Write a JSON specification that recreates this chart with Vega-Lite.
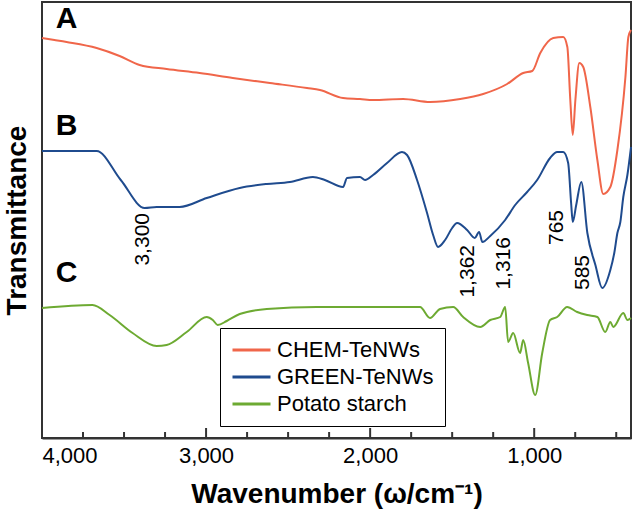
{
  "$schema": "https://vega.github.io/schema/vega-lite/v6.json",
  "width": 589,
  "height": 436,
  "autosize": {"type": "none"},
  "padding": {"left": 42, "top": 2, "right": 5, "bottom": 75},
  "config": {
    "font": "Liberation Sans",
    "view": {"stroke": "#333333", "strokeWidth": 2},
    "axis": {"grid": false}
  },
  "datasets": {
    "spectra": [
      {"s": "CHEM-TeNWs", "wn": 4000, "t": 400},
      {"s": "CHEM-TeNWs", "wn": 3924, "t": 398},
      {"s": "CHEM-TeNWs", "wn": 3850, "t": 396},
      {"s": "CHEM-TeNWs", "wn": 3667, "t": 390},
      {"s": "CHEM-TeNWs", "wn": 3527, "t": 382},
      {"s": "CHEM-TeNWs", "wn": 3405, "t": 373},
      {"s": "CHEM-TeNWs", "wn": 3240, "t": 369},
      {"s": "CHEM-TeNWs", "wn": 3039, "t": 365},
      {"s": "CHEM-TeNWs", "wn": 2837, "t": 360},
      {"s": "CHEM-TeNWs", "wn": 2611, "t": 355},
      {"s": "CHEM-TeNWs", "wn": 2385, "t": 350},
      {"s": "CHEM-TeNWs", "wn": 2306, "t": 348},
      {"s": "CHEM-TeNWs", "wn": 2165, "t": 340},
      {"s": "CHEM-TeNWs", "wn": 2062, "t": 339},
      {"s": "CHEM-TeNWs", "wn": 1982, "t": 338},
      {"s": "CHEM-TeNWs", "wn": 1799, "t": 339},
      {"s": "CHEM-TeNWs", "wn": 1635, "t": 336},
      {"s": "CHEM-TeNWs", "wn": 1451, "t": 339},
      {"s": "CHEM-TeNWs", "wn": 1311, "t": 344},
      {"s": "CHEM-TeNWs", "wn": 1165, "t": 354},
      {"s": "CHEM-TeNWs", "wn": 1067, "t": 365},
      {"s": "CHEM-TeNWs", "wn": 1012, "t": 367},
      {"s": "CHEM-TeNWs", "wn": 963, "t": 385},
      {"s": "CHEM-TeNWs", "wn": 884, "t": 400},
      {"s": "CHEM-TeNWs", "wn": 823, "t": 401},
      {"s": "CHEM-TeNWs", "wn": 798, "t": 391},
      {"s": "CHEM-TeNWs", "wn": 780, "t": 338},
      {"s": "CHEM-TeNWs", "wn": 765, "t": 303},
      {"s": "CHEM-TeNWs", "wn": 749, "t": 338},
      {"s": "CHEM-TeNWs", "wn": 725, "t": 375},
      {"s": "CHEM-TeNWs", "wn": 701, "t": 371},
      {"s": "CHEM-TeNWs", "wn": 658, "t": 331},
      {"s": "CHEM-TeNWs", "wn": 615, "t": 278},
      {"s": "CHEM-TeNWs", "wn": 579, "t": 244},
      {"s": "CHEM-TeNWs", "wn": 536, "t": 251},
      {"s": "CHEM-TeNWs", "wn": 493, "t": 288},
      {"s": "CHEM-TeNWs", "wn": 444, "t": 361},
      {"s": "CHEM-TeNWs", "wn": 426, "t": 401},
      {"s": "CHEM-TeNWs", "wn": 410, "t": 408},
      {"s": "GREEN-TeNWs", "wn": 4000, "t": 287},
      {"s": "GREEN-TeNWs", "wn": 3832, "t": 287},
      {"s": "GREEN-TeNWs", "wn": 3667, "t": 287},
      {"s": "GREEN-TeNWs", "wn": 3520, "t": 258},
      {"s": "GREEN-TeNWs", "wn": 3374, "t": 230},
      {"s": "GREEN-TeNWs", "wn": 3301, "t": 231},
      {"s": "GREEN-TeNWs", "wn": 3161, "t": 231},
      {"s": "GREEN-TeNWs", "wn": 2996, "t": 240},
      {"s": "GREEN-TeNWs", "wn": 2795, "t": 250},
      {"s": "GREEN-TeNWs", "wn": 2630, "t": 254},
      {"s": "GREEN-TeNWs", "wn": 2489, "t": 256},
      {"s": "GREEN-TeNWs", "wn": 2349, "t": 261},
      {"s": "GREEN-TeNWs", "wn": 2276, "t": 258},
      {"s": "GREEN-TeNWs", "wn": 2165, "t": 251},
      {"s": "GREEN-TeNWs", "wn": 2141, "t": 260},
      {"s": "GREEN-TeNWs", "wn": 2062, "t": 261},
      {"s": "GREEN-TeNWs", "wn": 2031, "t": 258},
      {"s": "GREEN-TeNWs", "wn": 1982, "t": 263},
      {"s": "GREEN-TeNWs", "wn": 1897, "t": 275},
      {"s": "GREEN-TeNWs", "wn": 1806, "t": 286},
      {"s": "GREEN-TeNWs", "wn": 1775, "t": 283},
      {"s": "GREEN-TeNWs", "wn": 1714, "t": 258},
      {"s": "GREEN-TeNWs", "wn": 1653, "t": 225},
      {"s": "GREEN-TeNWs", "wn": 1616, "t": 203},
      {"s": "GREEN-TeNWs", "wn": 1586, "t": 191},
      {"s": "GREEN-TeNWs", "wn": 1543, "t": 198},
      {"s": "GREEN-TeNWs", "wn": 1500, "t": 210},
      {"s": "GREEN-TeNWs", "wn": 1470, "t": 215},
      {"s": "GREEN-TeNWs", "wn": 1409, "t": 208},
      {"s": "GREEN-TeNWs", "wn": 1362, "t": 200},
      {"s": "GREEN-TeNWs", "wn": 1336, "t": 206},
      {"s": "GREEN-TeNWs", "wn": 1316, "t": 196},
      {"s": "GREEN-TeNWs", "wn": 1268, "t": 202},
      {"s": "GREEN-TeNWs", "wn": 1177, "t": 218},
      {"s": "GREEN-TeNWs", "wn": 1116, "t": 233},
      {"s": "GREEN-TeNWs", "wn": 1043, "t": 246},
      {"s": "GREEN-TeNWs", "wn": 982, "t": 258},
      {"s": "GREEN-TeNWs", "wn": 903, "t": 280},
      {"s": "GREEN-TeNWs", "wn": 860, "t": 286},
      {"s": "GREEN-TeNWs", "wn": 823, "t": 286},
      {"s": "GREEN-TeNWs", "wn": 793, "t": 275},
      {"s": "GREEN-TeNWs", "wn": 775, "t": 235},
      {"s": "GREEN-TeNWs", "wn": 765, "t": 216},
      {"s": "GREEN-TeNWs", "wn": 744, "t": 233},
      {"s": "GREEN-TeNWs", "wn": 713, "t": 256},
      {"s": "GREEN-TeNWs", "wn": 676, "t": 205},
      {"s": "GREEN-TeNWs", "wn": 627, "t": 173},
      {"s": "GREEN-TeNWs", "wn": 585, "t": 150},
      {"s": "GREEN-TeNWs", "wn": 536, "t": 168},
      {"s": "GREEN-TeNWs", "wn": 512, "t": 185},
      {"s": "GREEN-TeNWs", "wn": 493, "t": 205},
      {"s": "GREEN-TeNWs", "wn": 475, "t": 216},
      {"s": "GREEN-TeNWs", "wn": 457, "t": 241},
      {"s": "GREEN-TeNWs", "wn": 432, "t": 263},
      {"s": "GREEN-TeNWs", "wn": 410, "t": 291},
      {"s": "Potato starch", "wn": 4000, "t": 130},
      {"s": "Potato starch", "wn": 3692, "t": 133},
      {"s": "Potato starch", "wn": 3588, "t": 123},
      {"s": "Potato starch", "wn": 3448, "t": 105},
      {"s": "Potato starch", "wn": 3301, "t": 92},
      {"s": "Potato starch", "wn": 3240, "t": 93},
      {"s": "Potato starch", "wn": 3118, "t": 106},
      {"s": "Potato starch", "wn": 2996, "t": 121},
      {"s": "Potato starch", "wn": 2959, "t": 118},
      {"s": "Potato starch", "wn": 2929, "t": 113},
      {"s": "Potato starch", "wn": 2874, "t": 117},
      {"s": "Potato starch", "wn": 2795, "t": 124},
      {"s": "Potato starch", "wn": 2630, "t": 129},
      {"s": "Potato starch", "wn": 2325, "t": 131},
      {"s": "Potato starch", "wn": 2001, "t": 131},
      {"s": "Potato starch", "wn": 1696, "t": 131},
      {"s": "Potato starch", "wn": 1635, "t": 120},
      {"s": "Potato starch", "wn": 1574, "t": 129},
      {"s": "Potato starch", "wn": 1494, "t": 131},
      {"s": "Potato starch", "wn": 1433, "t": 121},
      {"s": "Potato starch", "wn": 1329, "t": 111},
      {"s": "Potato starch", "wn": 1268, "t": 118},
      {"s": "Potato starch", "wn": 1207, "t": 121},
      {"s": "Potato starch", "wn": 1177, "t": 131},
      {"s": "Potato starch", "wn": 1159, "t": 96},
      {"s": "Potato starch", "wn": 1128, "t": 105},
      {"s": "Potato starch", "wn": 1086, "t": 85},
      {"s": "Potato starch", "wn": 1067, "t": 98},
      {"s": "Potato starch", "wn": 1037, "t": 75},
      {"s": "Potato starch", "wn": 994, "t": 43},
      {"s": "Potato starch", "wn": 951, "t": 85},
      {"s": "Potato starch", "wn": 903, "t": 118},
      {"s": "Potato starch", "wn": 860, "t": 121},
      {"s": "Potato starch", "wn": 799, "t": 131},
      {"s": "Potato starch", "wn": 738, "t": 126},
      {"s": "Potato starch", "wn": 677, "t": 123},
      {"s": "Potato starch", "wn": 615, "t": 121},
      {"s": "Potato starch", "wn": 567, "t": 106},
      {"s": "Potato starch", "wn": 536, "t": 116},
      {"s": "Potato starch", "wn": 518, "t": 111},
      {"s": "Potato starch", "wn": 457, "t": 125},
      {"s": "Potato starch", "wn": 432, "t": 118},
      {"s": "Potato starch", "wn": 410, "t": 120}
    ],
    "peaks": [
      {"wn": 3387, "t": 225, "label": "3,300"},
      {"wn": 1403, "t": 193, "label": "1,362"},
      {"wn": 1183, "t": 201, "label": "1,316"},
      {"wn": 860, "t": 228, "label": "765"},
      {"wn": 701, "t": 183, "label": "585"}
    ],
    "letters": [
      {"wn": 3850, "t": 419, "label": "A"},
      {"wn": 3850, "t": 312, "label": "B"},
      {"wn": 3850, "t": 165, "label": "C"}
    ],
    "ticks": [
      {"wn": 3000, "len": 10}, {"wn": 2000, "len": 10}, {"wn": 1000, "len": 10},
      {"wn": 3750, "len": 6}, {"wn": 3500, "len": 6}, {"wn": 3250, "len": 6},
      {"wn": 2750, "len": 6}, {"wn": 2500, "len": 6}, {"wn": 2250, "len": 6},
      {"wn": 1750, "len": 6}, {"wn": 1500, "len": 6}, {"wn": 1250, "len": 6},
      {"wn": 750, "len": 6}, {"wn": 500, "len": 6}
    ]
  },
  "layer": [
    {
      "data": {"name": "spectra"},
      "mark": {"type": "line", "strokeWidth": 2, "interpolate": "monotone"},
      "encoding": {
        "x": {
          "field": "wn", "type": "quantitative",
          "scale": {"domain": [4000, 410], "nice": false, "zero": false},
          "axis": {
            "orient": "bottom",
            "values": [4000, 3000, 2000, 1000],
            "format": ",d",
            "ticks": false,
            "domainColor": "#333333", "domainWidth": 2,
            "labelFontSize": 22, "labelColor": "#000000", "labelPadding": 7,
            "labelFont": "Liberation Sans",
            "title": "Wavenumber (ω/cm⁻¹)",
            "titleFontSize": 28, "titleFontWeight": "bold", "titleColor": "#000000",
            "titleFont": "Liberation Sans", "titlePadding": 14
          }
        },
        "y": {
          "field": "t", "type": "quantitative",
          "scale": {"domain": [0, 436], "nice": false, "zero": false},
          "axis": {
            "labels": false, "ticks": false, "domain": false,
            "title": "Transmittance",
            "titleFontSize": 28, "titleFontWeight": "bold", "titleColor": "#000000",
            "titleFont": "Liberation Sans", "titlePadding": 11
          }
        },
        "color": {
          "field": "s", "type": "nominal",
          "scale": {
            "domain": ["CHEM-TeNWs", "GREEN-TeNWs", "Potato starch"],
            "range": ["#F0664A", "#1F4B8E", "#6DAA32"]
          },
          "legend": {
            "title": null,
            "orient": "none",
            "legendX": 178,
            "legendY": 326,
            "symbolType": "stroke",
            "symbolSize": 1444,
            "symbolStrokeWidth": 3,
            "clipHeight": 22,
            "labelFontSize": 22,
            "labelFont": "Liberation Sans",
            "labelColor": "#000000",
            "labelOffset": 5,
            "rowPadding": 5,
            "padding": 11,
            "strokeColor": "#000000",
            "fillColor": "#ffffff"
          }
        }
      }
    },
    {
      "data": {"name": "ticks"},
      "mark": {"type": "rule", "strokeWidth": 2, "color": "#333333"},
      "encoding": {
        "x": {"field": "wn", "type": "quantitative"},
        "y": {"field": "len", "type": "quantitative"},
        "y2": {"datum": 0}
      }
    },
    {
      "data": {"name": "peaks"},
      "mark": {"type": "text", "angle": 270, "align": "right", "baseline": "middle", "fontSize": 21, "font": "Liberation Sans", "color": "#000000"},
      "encoding": {
        "x": {"field": "wn", "type": "quantitative"},
        "y": {"field": "t", "type": "quantitative"},
        "text": {"field": "label"}
      }
    },
    {
      "data": {"name": "letters"},
      "mark": {"type": "text", "align": "center", "baseline": "middle", "fontSize": 30, "fontWeight": "bold", "font": "Liberation Sans", "color": "#000000"},
      "encoding": {
        "x": {"field": "wn", "type": "quantitative"},
        "y": {"field": "t", "type": "quantitative"},
        "text": {"field": "label"}
      }
    }
  ]
}
